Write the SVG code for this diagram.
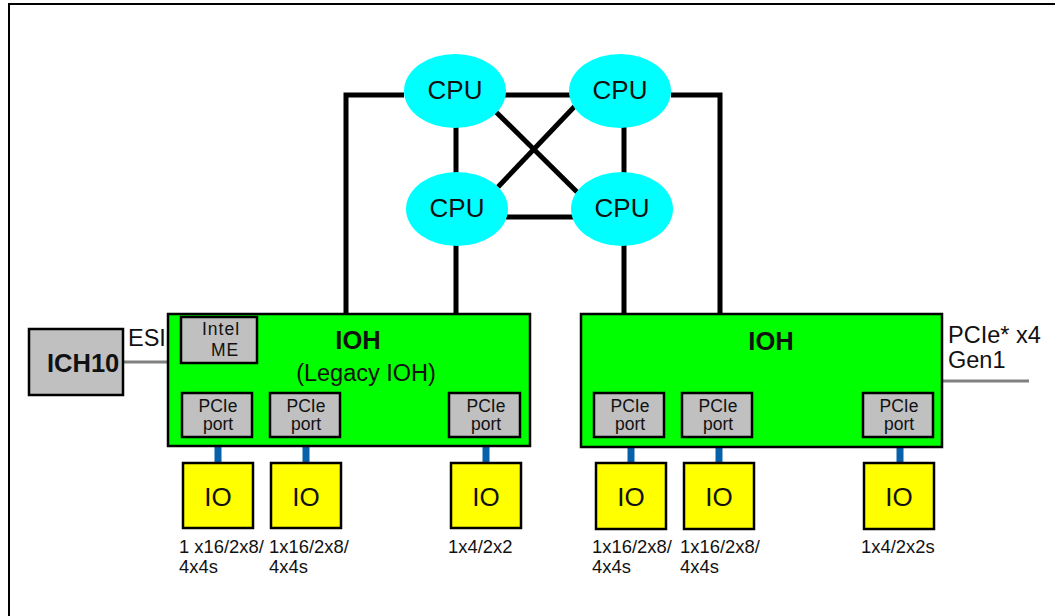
<svg xmlns="http://www.w3.org/2000/svg" width="1055" height="616" viewBox="0 0 1055 616">
<style>
text{font-family:"Liberation Sans",Arial,sans-serif;fill:#111}
.bus{stroke:#000;stroke-width:5;fill:none}
.cpu{fill:#00FFFF}
.ioh{fill:#00FF00;stroke:#000;stroke-width:2.5}
.gray{fill:#C0C0C0;stroke:#000;stroke-width:2.5}
.io{fill:#FFFF00;stroke:#000;stroke-width:2.5}
.lnk{stroke:#0760AA;stroke-width:7}
.side{stroke:#808080;stroke-width:3}
.big{font-size:26px}
.cpt{font-size:17.5px}
.lbl{font-size:18.4px}
.sl{font-size:23.5px}
</style>
<rect width="1055" height="616" fill="#fff"/>
<path d="M9,616 V4 H1056" fill="none" stroke="#000" stroke-width="2"/>
<g id="connectors">
<path class="bus" d="M404,95 H346 V314"/>
<path class="bus" d="M505,95 H570"/>
<path class="bus" d="M671,95 H720 V314"/>
<path class="bus" d="M456,125 V175"/>
<path class="bus" d="M624,125 V175"/>
<path class="bus" d="M500,217 H574"/>
<path class="bus" d="M496,112 L577,192"/>
<path class="bus" d="M575,106 L498,187"/>
<path class="bus" d="M456,240 V314"/>
<path class="bus" d="M624,240 V314"/>
<line class="side" x1="123" y1="362" x2="168" y2="362"/>
<line class="side" x1="943" y1="381" x2="1029" y2="381"/>
<line class="lnk" x1="218" y1="437" x2="218" y2="463"/>
<line class="lnk" x1="306" y1="437" x2="306" y2="463"/>
<line class="lnk" x1="486" y1="437" x2="486" y2="463"/>
<line class="lnk" x1="631" y1="437" x2="631" y2="463"/>
<line class="lnk" x1="719" y1="437" x2="719" y2="463"/>
<line class="lnk" x1="900" y1="437" x2="900" y2="463"/>
</g>
<g id="cpu1"><ellipse class="cpu" cx="455" cy="91" rx="51" ry="37"/><text class="big" x="455" y="99" text-anchor="middle">CPU</text></g>
<g id="cpu2"><ellipse class="cpu" cx="620" cy="91" rx="51" ry="37"/><text class="big" x="620" y="99" text-anchor="middle">CPU</text></g>
<g id="cpu3"><ellipse class="cpu" cx="457" cy="209" rx="51" ry="37"/><text class="big" x="457" y="217" text-anchor="middle">CPU</text></g>
<g id="cpu4"><ellipse class="cpu" cx="622" cy="209" rx="51" ry="37"/><text class="big" x="622" y="217" text-anchor="middle">CPU</text></g>
<g id="ich10"><rect class="gray" x="29" y="329" width="94" height="66"/><text x="47" y="372" font-size="25.5" font-weight="bold">ICH10</text></g>
<g id="esi-label"><text class="sl" x="128" y="346">ESI</text></g>
<g id="ioh-left">
<rect class="ioh" x="168" y="314" width="362" height="132"/>
<text x="358" y="349" font-size="25.5" font-weight="bold" text-anchor="middle">IOH</text>
<text x="366" y="381" font-size="23.5" text-anchor="middle">(Legacy IOH)</text>
</g>
<g id="intel-me"><rect class="gray" x="181" y="317" width="76" height="46"/><text class="cpt" x="221" y="335" text-anchor="middle" letter-spacing="1">Intel</text><text class="cpt" x="225" y="356" text-anchor="middle" letter-spacing="1">ME</text></g>
<g id="port1"><rect class="gray" x="182" y="393" width="70" height="44"/><text class="cpt" x="218" y="412" text-anchor="middle">PCIe</text><text class="cpt" x="218" y="430" text-anchor="middle">port</text></g>
<g id="port2"><rect class="gray" x="270" y="393" width="70" height="44"/><text class="cpt" x="306" y="412" text-anchor="middle">PCIe</text><text class="cpt" x="306" y="430" text-anchor="middle">port</text></g>
<g id="port3"><rect class="gray" x="449" y="393" width="71" height="44"/><text class="cpt" x="486" y="412" text-anchor="middle">PCIe</text><text class="cpt" x="486" y="430" text-anchor="middle">port</text></g>
<g id="ioh-right">
<rect class="ioh" x="581" y="314" width="361" height="133"/>
<text x="771" y="350" font-size="25.5" font-weight="bold" text-anchor="middle">IOH</text>
</g>
<g id="port4"><rect class="gray" x="594" y="393" width="70" height="44"/><text class="cpt" x="630" y="412" text-anchor="middle">PCIe</text><text class="cpt" x="630" y="430" text-anchor="middle">port</text></g>
<g id="port5"><rect class="gray" x="682" y="393" width="70" height="44"/><text class="cpt" x="718" y="412" text-anchor="middle">PCIe</text><text class="cpt" x="718" y="430" text-anchor="middle">port</text></g>
<g id="port6"><rect class="gray" x="863" y="393" width="70" height="44"/><text class="cpt" x="899" y="412" text-anchor="middle">PCIe</text><text class="cpt" x="899" y="430" text-anchor="middle">port</text></g>
<g id="pcie-label"><text class="sl" x="948" y="343">PCIe* x4</text><text class="sl" x="948" y="368">Gen1</text></g>
<g id="io1"><rect class="io" x="183" y="463" width="70" height="65"/><text class="big" x="218" y="506" text-anchor="middle">IO</text></g>
<g id="io2"><rect class="io" x="271" y="463" width="70" height="65"/><text class="big" x="306" y="506" text-anchor="middle">IO</text></g>
<g id="io3"><rect class="io" x="451" y="463" width="70" height="65"/><text class="big" x="486" y="506" text-anchor="middle">IO</text></g>
<g id="io4"><rect class="io" x="596" y="463" width="70" height="66"/><text class="big" x="631" y="506" text-anchor="middle">IO</text></g>
<g id="io5"><rect class="io" x="684" y="463" width="70" height="66"/><text class="big" x="719" y="506" text-anchor="middle">IO</text></g>
<g id="io6"><rect class="io" x="864" y="463" width="70" height="66"/><text class="big" x="899" y="506" text-anchor="middle">IO</text></g>
<g id="labels">
<text class="lbl" x="179" y="553">1 x16/2x8/</text><text class="lbl" x="179" y="573">4x4s</text>
<text class="lbl" x="269" y="553">1x16/2x8/</text><text class="lbl" x="269" y="573">4x4s</text>
<text class="lbl" x="448" y="553">1x4/2x2</text>
<text class="lbl" x="592" y="553">1x16/2x8/</text><text class="lbl" x="592" y="573">4x4s</text>
<text class="lbl" x="680" y="553">1x16/2x8/</text><text class="lbl" x="680" y="573">4x4s</text>
<text class="lbl" x="861" y="553">1x4/2x2s</text>
</g>
</svg>
